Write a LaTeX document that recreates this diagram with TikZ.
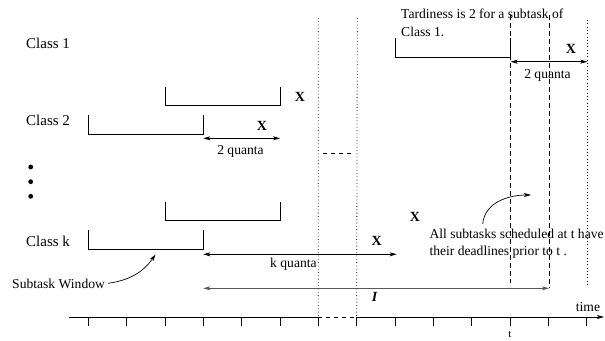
\documentclass[tikz,border=0pt]{standalone}
\usepackage{fontspec}
\setmainfont{Liberation Serif}
\usetikzlibrary{arrows.meta}
\begin{document}
\begin{tikzpicture}[x=1pt,y=-1pt,
  cls/.style={font=\fontsize{15}{17}\selectfont, inner sep=0pt, anchor=base west},
  lbl/.style={font=\fontsize{13.6}{16}\selectfont, inner sep=0pt, anchor=base},
  lblw/.style={lbl, anchor=base west},
  xmark/.style={font=\bfseries\fontsize{14}{16}\selectfont, inner sep=0pt, anchor=base},
  ln/.style={line width=0.7pt},
  dotl/.style={line width=0.8pt, dash pattern=on 0.8pt off 2.5pt},
  dashl/.style={line width=0.7pt, dash pattern=on 4.5pt off 3.5pt},
  tip/.tip={Stealth[length=7pt,width=4pt,inset=2pt]},
  darr/.style={ln, tip-tip},
  sarr/.style={ln, -tip},
]
\useasboundingbox (0,0) rectangle (605,340);

% --- coordinates ---
\foreach \i in {0,...,13} {
  \coordinate (k\i) at ({88.33+38.33*\i},317);
  \coordinate (kb\i) at ({88.33+38.33*\i},326);
}
\coordinate (axL) at (69,317);
\coordinate (axR) at (604,317);

% --- time axis ---
\draw[ln] (axL) -- (k6);
\draw[ln, dash pattern=on 4pt off 4pt] (k6) -- (k7);
\draw[ln,-tip] (k7) -- (axR);
\foreach \i in {0,...,13} \draw[ln] (k\i) -- (kb\i);
\node[lbl] (time) at (588,311.7) {time};
\node[lbl, font=\fontsize{11}{12}\selectfont] (tlab) at (510,337) {t};

% --- vertical guide lines ---
\coordinate (d1t) at (318.3,18);  \draw[dotl] (d1t) -- (k6);
\coordinate (d2t) at (357.3,18);  \draw[dotl] (d2t) -- (k7);
\coordinate (d3t) at (587.3,20);  \coordinate (d3b) at (587.3,285);
\draw[dotl] (d3t) -- (d3b);
\coordinate (e1t) at (510.7,15);  \coordinate (e1b) at (510.7,283);
\draw[dashl] (e1t) -- (e1b);
\coordinate (e2t) at (549,15);    \coordinate (e2b) at (549,288);
\draw[dashl] (e2t) -- (e2b);

% small dashed segment between dotted lines
\coordinate (sd1) at (323,153.3); \coordinate (sd2) at (351,153.3);
\draw[ln, dash pattern=on 4pt off 4pt] (sd1) -- (sd2);

% --- class labels ---
\node[cls] (c1) at (26,48.3) {Class 1};
\node[cls] (c2) at (26,125) {Class 2};
\node[cls] (ck) at (26,246) {Class k};
\fill (30.7,167) circle (2.4pt);
\fill (30.7,181.7) circle (2.4pt);
\fill (30.7,196.3) circle (2.4pt);

% --- subtask windows ---
\draw[ln] (395.7,38) -- (395.7,57.3) -- (510.7,57.3) -- (510.7,38);
\draw[ln] (88.3,115) -- (88.3,134.3) -- (203.3,134.3) -- (203.3,115);
\draw[ln] (165,86.7) -- (165,105.7) -- (280,105.7) -- (280,86.7);
\draw[ln] (88.3,230) -- (88.3,249.3) -- (203.3,249.3) -- (203.3,230);
\draw[ln] (165,201.7) -- (165,220.7) -- (280,220.7) -- (280,201.7);

% --- X marks ---
\node[xmark] (x1) at (571,53) {X};
\node[xmark] (x2a) at (300,101.7) {X};
\node[xmark] (x2b) at (262,130) {X};
\node[xmark] (xka) at (415,221.7) {X};
\node[xmark] (xkb) at (376.7,245) {X};
\node[font=\bfseries\itshape\fontsize{14}{16}\selectfont, inner sep=0pt, anchor=base] (ilab) at (374.5,301.7) {I};

% --- quanta arrows ---
\coordinate (q1a) at (510.7,61.7); \coordinate (q1b) at (587.3,61.7);
\draw[darr] (q1a) -- (q1b);
\node[lbl] (q1l) at (547.5,78) {2 quanta};

\coordinate (q2a) at (203.3,138.3); \coordinate (q2b) at (280,138.3);
\draw[darr] (q2a) -- (q2b);
\node[lbl] (q2l) at (240.5,154) {2 quanta};

\coordinate (qka) at (203.3,254.3); \coordinate (qkb) at (396.7,254.3);
\draw[darr] (qka) -- (qkb);
\node[lblw] (qkl) at (270,267) {k quanta};

\coordinate (ia) at (203.3,288.3); \coordinate (ib) at (549,288.3);
\draw[darr, draw=black!65, fill=black!65] (ia) -- (ib);

% --- annotations ---
\node[lblw] (tard1) at (401,19) {Tardiness is 2 for a subtask of};
\node[lblw] (tard2) at (401,36.7) {Class 1.};

\node[lblw] (all1) at (429.3,238.3) {All subtasks scheduled at t have};
\node[lblw] (all2) at (429.3,255) {their deadlines prior to t .};
\coordinate (a1s) at (482.7,224); \coordinate (a1e) at (531,195);
\draw[sarr] (a1s) to[out=85,in=180] (a1e);

\node[lblw] (sw) at (12,288.3) {Subtask Window};
\coordinate (a2s) at (108,283.3); \coordinate (a2e) at (155.5,254.5);
\draw[sarr] (a2s) to[out=8,in=-125] (a2e);
\end{tikzpicture}
\end{document}
